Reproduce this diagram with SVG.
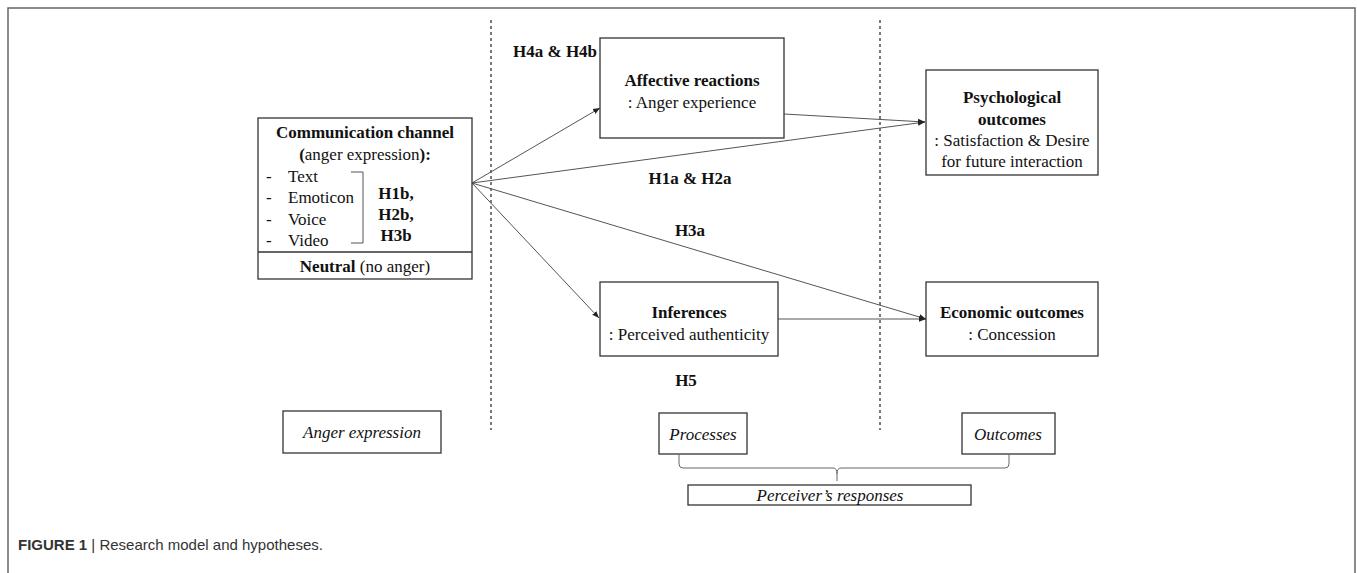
<svg xmlns="http://www.w3.org/2000/svg" width="1357" height="573" viewBox="0 0 1357 573">
<style>
.box{fill:#fff;stroke:#333;stroke-width:1.3}
.t{font-family:"Liberation Serif",serif;font-size:17px;fill:#111}
.b{font-weight:bold}
.i{font-style:italic}
.c{text-anchor:middle}
.cn{stroke:#555;stroke-width:1;fill:none}
.dash{stroke:#333;stroke-width:1.3;stroke-dasharray:3 3;fill:none}
.cap{font-family:"Liberation Sans",Arial,sans-serif;font-size:15px;fill:#333}
</style>
<defs>
<marker id="ah" viewBox="0 0 10 10" refX="10" refY="5" markerWidth="7" markerHeight="7" orient="auto" markerUnits="userSpaceOnUse">
<path d="M0,1 L10,5 L0,9 z" fill="#222"/>
</marker>
</defs>
<rect width="1357" height="573" fill="#fff"/>
<path d="M8,573 V8 H1355 V573" fill="none" stroke="#666" stroke-width="1.5"/>

<g id="dividers">
<line class="dash" x1="491" y1="20" x2="491" y2="430"/>
<line class="dash" x1="880" y1="20" x2="880" y2="430"/>
</g>

<g id="connectors">
<line class="cn" x1="472" y1="183" x2="600" y2="108" marker-end="url(#ah)"/>
<line class="cn" x1="472" y1="183" x2="925" y2="122" marker-end="url(#ah)"/>
<line class="cn" x1="784" y1="114" x2="925" y2="122" marker-end="url(#ah)"/>
<line class="cn" x1="472" y1="183" x2="926" y2="319" marker-end="url(#ah)"/>
<line class="cn" x1="472" y1="183" x2="599" y2="318" marker-end="url(#ah)"/>
<line class="cn" x1="778" y1="319" x2="926" y2="319" marker-end="url(#ah)"/>
</g>

<g id="labels">
<text class="t b" x="513" y="57">H4a &amp; H4b</text>
<text class="t b c" x="690" y="184">H1a &amp; H2a</text>
<text class="t b c" x="690" y="236">H3a</text>
<text class="t b c" x="686" y="386">H5</text>
</g>

<g id="communication-channel">
<rect class="box" x="258" y="118" width="214" height="161"/>
<line x1="258" y1="252" x2="472" y2="252" stroke="#333" stroke-width="1.3"/>
<text class="t b c" x="365" y="138">Communication channel</text>
<text class="t c" x="365" y="160"><tspan class="b">(</tspan>anger expression<tspan class="b">):</tspan></text>
<text class="t" x="266" y="182">-</text>
<text class="t" x="288" y="182">Text</text>
<text class="t" x="266" y="203">-</text>
<text class="t" x="288" y="203">Emoticon</text>
<text class="t" x="266" y="225">-</text>
<text class="t" x="288" y="225">Voice</text>
<text class="t" x="266" y="246">-</text>
<text class="t" x="288" y="246">Video</text>
<path d="M351,172 H363 V243 H351" fill="none" stroke="#555" stroke-width="1"/>
<text class="t b c" x="396" y="199">H1b,</text>
<text class="t b c" x="396" y="220">H2b,</text>
<text class="t b c" x="396" y="241">H3b</text>
<text class="t c" x="365" y="272"><tspan class="b">Neutral</tspan> (no anger)</text>
</g>

<g id="affective-reactions">
<rect class="box" x="600" y="38" width="184" height="100"/>
<text class="t b c" x="692" y="86">Affective reactions</text>
<text class="t c" x="692" y="108">: Anger experience</text>
</g>

<g id="psychological-outcomes">
<rect class="box" x="926" y="70" width="172" height="105"/>
<text class="t b c" x="1012" y="103">Psychological</text>
<text class="t b c" x="1012" y="125">outcomes</text>
<text class="t c" x="1012" y="146">: Satisfaction &amp; Desire</text>
<text class="t c" x="1012" y="167">for future interaction</text>
</g>

<g id="inferences">
<rect class="box" x="600" y="282" width="178" height="74"/>
<text class="t b c" x="689" y="318">Inferences</text>
<text class="t c" x="689" y="340">: Perceived authenticity</text>
</g>

<g id="economic-outcomes">
<rect class="box" x="926" y="282" width="172" height="74"/>
<text class="t b c" x="1012" y="318">Economic outcomes</text>
<text class="t c" x="1012" y="340">: Concession</text>
</g>

<g id="anger-expression">
<rect class="box" x="283" y="411" width="158" height="42"/>
<text class="t i c" x="362" y="438">Anger expression</text>
</g>

<g id="processes">
<rect class="box" x="659" y="413" width="88" height="41"/>
<text class="t i c" x="703" y="440">Processes</text>
</g>

<g id="outcomes">
<rect class="box" x="962" y="413" width="93" height="41"/>
<text class="t i c" x="1008" y="440">Outcomes</text>
</g>

<g id="brace">
<path d="M679,454 V464 Q679,468 683,468 H833 Q837,468 837,474 V481 M837,474 Q837,468 841,468 H1005 Q1009,468 1009,464 V454" fill="none" stroke="#666" stroke-width="1"/>
</g>

<g id="perceivers-responses">
<rect class="box" x="688" y="485" width="283" height="20"/>
<text class="t i c" x="830" y="501">Perceiver’s responses</text>
</g>

<g id="caption">
<text class="cap" x="18" y="550"><tspan font-weight="bold">FIGURE 1</tspan> | Research model and hypotheses.</text>
</g>
</svg>
